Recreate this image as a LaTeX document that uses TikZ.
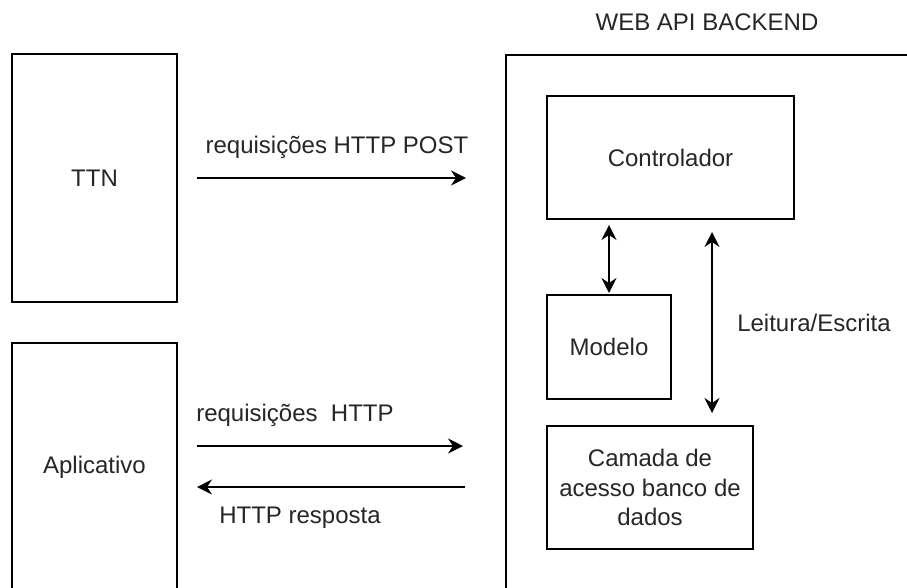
\documentclass[tikz,border=0pt]{standalone}
\usepackage{fontspec}
\setmainfont{Liberation Sans}
\usetikzlibrary{arrows.meta}
\begin{document}
\begin{tikzpicture}[x=1pt,y=-1pt,
  font=\fontsize{24}{29.5}\selectfont, text=black!85,
  box/.style={draw=black, line width=1.6pt, inner sep=0pt, outer sep=0pt, align=center},
  tip/.style={Stealth[length=15pt,width=15pt,inset=5pt]},
  link/.style={line width=1.6pt, -{Stealth[length=15pt,width=15pt,inset=5pt]}},
  both/.style={line width=1.6pt, {Stealth[length=15pt,width=15pt,inset=5pt]}-{Stealth[length=15pt,width=15pt,inset=5pt]}},
  lbl/.style={inner sep=0pt}]
\useasboundingbox (0,0) rectangle (907,587);
\clip (0,0) rectangle (907,587);

% external systems
\node[box, minimum width=165pt, minimum height=248pt] (ttn) at (94.5,178) {TTN};
\node[box, minimum width=165pt, minimum height=248pt] (app) at (94.5,467) {Aplicativo};

% backend container and its layers
\node[box, minimum width=402pt, minimum height=600pt] (backend) at (707,355) {};
\node[lbl] (backendtitle) at (707,22) {WEB API BACKEND};
\node[box, minimum width=247pt, minimum height=123pt] (ctrl) at (670.5,157.5) {Controlador};
\node[box, minimum width=124pt, minimum height=104pt] (modelo) at (609,347) {Modelo};
\node[box, minimum width=206pt, minimum height=123pt] (camada) at (650,487.5) {Camada de\\acesso banco de\\dados};

% helper coordinates for arrow rows/columns
\coordinate (reqy) at (0,446);
\coordinate (resy) at (0,487);
\coordinate (lx) at (712,0);

% requests and responses
\draw[link, shorten <=20pt, shorten >=40pt] (ttn.east) -- (ttn.east -| backend.west);
\draw[link, shorten <=20pt, shorten >=43pt] (app.east |- reqy) -- (backend.west |- reqy);
\draw[link, shorten <=41pt, shorten >=20pt] (backend.west |- resy) -- (app.east |- resy);

% internal links
\draw[both, shorten <=6pt, shorten >=2pt] (ctrl.south -| modelo.north) -- (modelo.north);
\draw[both, shorten <=13pt, shorten >=13pt] (ctrl.south -| lx) -- (camada.north -| lx);

% labels
\node[lbl] (lpost) at (337,147) {requisições HTTP POST};
\node[lbl] (lreq) at (295,415) {requisições~ HTTP};
\node[lbl] (lres) at (300,518) {HTTP resposta};
\node[lbl] (lrw) at (814,323) {Leitura/Escrita};
\end{tikzpicture}
\end{document}
